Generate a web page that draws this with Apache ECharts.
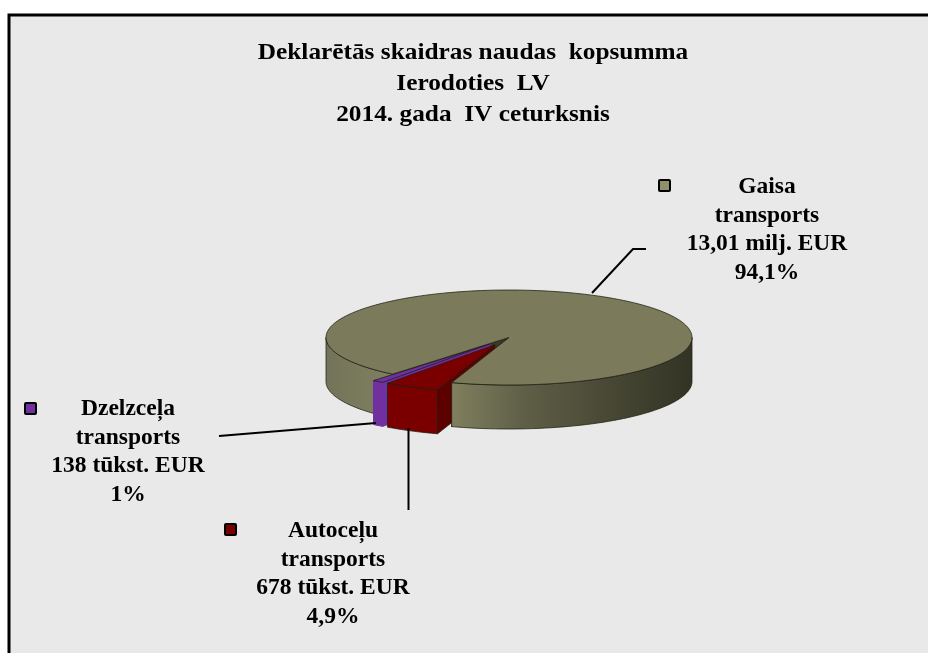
<!DOCTYPE html>
<html>
<head>
<meta charset="utf-8">
<style>
  html, body { margin: 0; padding: 0; background: #fff; }
  #main { width: 928px; height: 653px; }
</style>
<script src="https://cdn.jsdelivr.net/npm/echarts@6/dist/echarts.min.js"></script>
</head>
<body>
<div id="main"></div>
<script>
var titleLines = ["Deklarētās skaidras naudas  kopsumma", "Ierodoties  LV", "2014. gada  IV ceturksnis"];
var categories = ["Gaisa\ntransports", "Autoceļu\ntransports", "Dzelzceļa\ntransports"];
var amounts = [13010, 678, 138];
var amountLabels = ["13,01 milj. EUR", "678 tūkst. EUR", "138 tūkst. EUR"];
var percentLabels = ["94,1%", "4,9%", "1%"];
var colors = ["#7b7a5b", "#7a0000", "#7030a0"];
var keyColors = ["#8f8f6c", "#7a0000", "#7030a0"];

// layout of the fake 3d pie
var pie = { cx: 509, cy: 337.5, rx: 183, ry: 47.5, depth: 44, startDeg: 129.5, explode: 0.17 };
var sideColors = ["#6b6b4f", "#5c0000", "#7030a0"];
var edgeColor = "rgba(30,30,20,0.75)";
var labelPos = [[767, 187], [333, 531], [128, 409]];
var keyPos = [[658, 179], [224, 523], [24, 402]];
var leaders = [
  [[592, 293], [633, 249], [646, 249]],
  [[408.5, 428], [408.5, 510]],
  [[219, 436], [376, 423]]
];

var total = amounts.reduce(function (a, b) { return a + b; }, 0);
var slices = [];
var angle = pie.startDeg;
amounts.forEach(function (v) {
  var end = angle + v / total * 360;
  slices.push([angle, end]);
  angle = end;
});

function pt(deg, ox, oy, drop) {
  var r = deg * Math.PI / 180;
  return [pie.cx + ox + pie.rx * Math.cos(r), pie.cy + oy + pie.ry * Math.sin(r) + (drop || 0)];
}
function arc(from, to, ox, oy, drop) {
  var out = [];
  var n = Math.max(2, Math.ceil(Math.abs(to - from) / 2));
  for (var i = 0; i <= n; i++) {
    out.push(pt(from + (to - from) * i / n, ox, oy, drop));
  }
  return out;
}
function poly(points, fill, z2, stroke) {
  return {
    type: "polygon",
    z2: z2,
    shape: { points: points },
    style: { fill: fill, stroke: stroke || edgeColor, lineWidth: 1 }
  };
}
function wall(from, to, ox, oy, fill, z2, stroke) {
  var top = arc(from, to, ox, oy, 0);
  var bottom = arc(to, from, ox, oy, pie.depth);
  return poly(top.concat(bottom), fill, z2, stroke);
}
function radialWall(deg, ox, oy, fill, z2, stroke) {
  var c = [pie.cx + ox, pie.cy + oy];
  var e = pt(deg, ox, oy, 0);
  return poly([c, e, [e[0], e[1] + pie.depth], [c[0], c[1] + pie.depth]], fill, z2, stroke);
}

function renderSlice(params, api) {
  var i = params.dataIndex;
  var from = slices[i][0], to = slices[i][1];
  var children = [];
  var ox = 0, oy = 0;
  if (i > 0) {
    var mid = (from + to) / 2 * Math.PI / 180;
    ox = pie.explode * pie.rx * Math.cos(mid);
    oy = pie.explode * pie.ry * Math.sin(mid);
  }
  var c = [pie.cx + ox, pie.cy + oy];
  var topFace = [c].concat(arc(from, to, ox, oy, 0));

  if (i === 0) {
    // back left wall and the cut faces stay under the pulled out slices
    children.push(wall(from, 180, 0, 0, new echarts.graphic.LinearGradient(0, 0, 1, 0, [
      { offset: 0, color: "#73735a" }, { offset: 1, color: "#80805f" }
    ]), 1));
    children.push(radialWall(from, 0, 0, "#3a3a28", 2));
    children.push(radialWall(to, 0, 0, "#55553f", 2));
    children.push(wall(360, to, 0, 0, new echarts.graphic.LinearGradient(0, 0, 1, 0, [
      { offset: 0, color: "#80805f" },
      { offset: 0.3, color: "#5f5f47" },
      { offset: 0.65, color: "#484835" },
      { offset: 1, color: "#333325" }
    ]), 30));
    children.push(poly(topFace, colors[0], 31));
  } else {
    var base = i === 1 ? 20 : 10;
    // purple is so thin that its edges would hide the fill
    var stroke = i === 2 ? colors[2] : edgeColor;
    children.push(radialWall(from, ox, oy, sideColors[i], base, stroke));
    children.push(wall(from, to, ox, oy, colors[i], base + 1, stroke));
    children.push(poly(topFace, colors[i], base + 2));
  }

  // legend key, text and leader line of this slice
  children.push({
    type: "rect", z2: 40,
    shape: { x: keyPos[i][0] + 1, y: keyPos[i][1] + 1, width: 11, height: 11, r: 1 },
    style: { fill: keyColors[i], stroke: "#000", lineWidth: 2 }
  });
  children.push({
    type: "polyline", z2: 40,
    shape: { points: leaders[i] },
    style: { fill: null, stroke: "#000", lineWidth: 2 }
  });
  children.push({
    type: "text", z2: 40,
    x: labelPos[i][0], y: labelPos[i][1] - 14,
    style: {
      text: categories[i] + "\n" + amountLabels[i] + "\n" + percentLabels[i],
      font: "bold 23.5px 'Liberation Serif'",
      fill: "#000",
      align: "center",
      verticalAlign: "top",
      lineHeight: 28.5
    }
  });
  return { type: "group", children: children };
}

var chart = echarts.init(document.getElementById("main"));
chart.setOption({
  animation: false,
  backgroundColor: "#fff",
  graphic: [{
    type: "rect", z: -1,
    shape: { x: 9, y: 15, width: 930, height: 650 },
    style: { fill: "#e9e9e9", stroke: "#000", lineWidth: 3 }
  }, {
    // title is a bit wider than the font, stretched like in the picture
    type: "text", z: 5,
    x: 473, y: 37,
    scaleX: 1.055,
    style: {
      text: titleLines.join("\n"),
      font: "bold 24px 'Liberation Serif'",
      fill: "#000",
      align: "center",
      verticalAlign: "top",
      lineHeight: 31
    }
  }],
  series: [{
    type: "custom",
    coordinateSystem: "none",
    data: amounts,
    renderItem: renderSlice
  }]
});
</script>
</body>
</html>
